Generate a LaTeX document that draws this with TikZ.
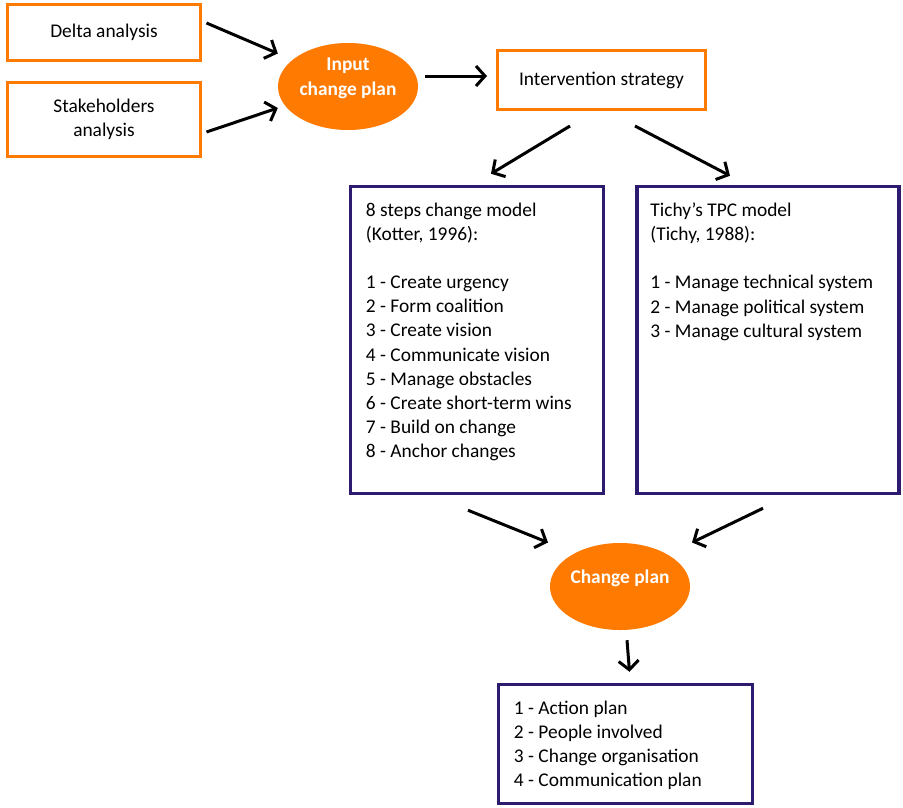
\documentclass[tikz,border=0pt]{standalone}
\usepackage{fontspec}
\setmainfont{Carlito}
\usetikzlibrary{arrows.meta,calc,shapes.geometric}
\definecolor{planorange}{RGB}{255,122,0}
\definecolor{modelindigo}{RGB}{45,27,112}
\begin{document}
\begin{tikzpicture}[x=1pt,y=-1pt,
  every node/.style={font=\fontsize{19.4pt}{24.1pt}\selectfont, inner sep=0pt},
  obox/.style={draw=planorange, line width=3pt, rectangle, align=center},
  pbox/.style={draw=modelindigo, line width=3.5pt, rectangle},
  blob/.style={ellipse, fill=planorange, minimum width=140pt, minimum height=87pt},
  blobtext/.style={text=white, font=\fontsize{19.4pt}{24.5pt}\selectfont\bfseries, align=center},
  listtext/.style={anchor=north west, align=left},
  arr/.style={line width=3pt, -{Straight Barb[length=9pt,width=20pt]}}]
\useasboundingbox (0,0) rectangle (903,807);

% top row
\node[obox, minimum width=193pt, minimum height=56pt] (delta) at (104,32.5) {Delta analysis};
\node[obox, minimum width=193pt, minimum height=74pt] (stake) at (104,119.5) {Stakeholders\\analysis};
\node[blob] (input) at (348,86.5) {};
\node[blobtext] (inputtext) at ($(input.center)+(0,-8)$) {Input\\change plan};
\node[obox, minimum width=208pt, minimum height=59pt] (interv) at (601.5,80) {Intervention strategy};

% the two change models
\node[pbox, minimum width=253pt, minimum height=307pt] (kotter) at (477,340) {};
\node[listtext] (kottertext) at ($(kotter.north west)+(17,18)$) {8 steps change model\\(Kotter, 1996):\\[24.1pt]1 - Create urgency\\2 - Form coalition\\3 - Create vision\\4 - Communicate vision\\5 - Manage obstacles\\6 - Create short-term wins\\7 - Build on change\\8 - Anchor changes};
\node[pbox, minimum width=262pt, minimum height=307pt] (tichy) at (768,340) {};
\node[listtext] (tichytext) at ($(tichy.north west)+(15,18)$) {Tichy’s TPC model\\(Tichy, 1988):\\[24.1pt]1 - Manage technical system\\2 - Manage political system\\3 - Manage cultural system};

% result
\node[blob] (change) at (620,586.5) {};
\node[blobtext] (changetext) at ($(change.center)+(0,-8.5)$) {Change plan};
\node[pbox, minimum width=254pt, minimum height=119pt] (out) at (625.5,744) {};
\node[listtext] (outtext) at ($(out.north west)+(17,18)$) {1 - Action plan\\2 - People involved\\3 - Change organisation\\4 - Communication plan};

% connectors
\draw[arr] ($(delta.east)+(4.5,-9.5)$) -- ($(input.west)+(0,-33)$);
\draw[arr] ($(stake.east)+(4.5,12.5)$) -- ($(input.west)+(0,21.5)$);
\draw[arr] ($(input.east)+(7,-10.5)$) -- ($(interv.west)+(-9,-4)$);
\draw[arr] ($(interv.south)+(-31.5,15)$) -- ($(kotter.north)+(14,-11)$);
\draw[arr] ($(interv.south)+(33.5,15)$) -- ($(tichy.north)+(-38,-9)$);
\draw[arr] ($(kotter.south)+(-9,15)$) -- ($(change.center)+(-72,-44)$);
\draw[arr] ($(tichy.south)+(-5,13)$) -- ($(change.center)+(72,-44)$);
\draw[arr] ($(change.south)+(7,10)$) -- ($(out.north)+(4,-11)$);
\end{tikzpicture}
\end{document}
